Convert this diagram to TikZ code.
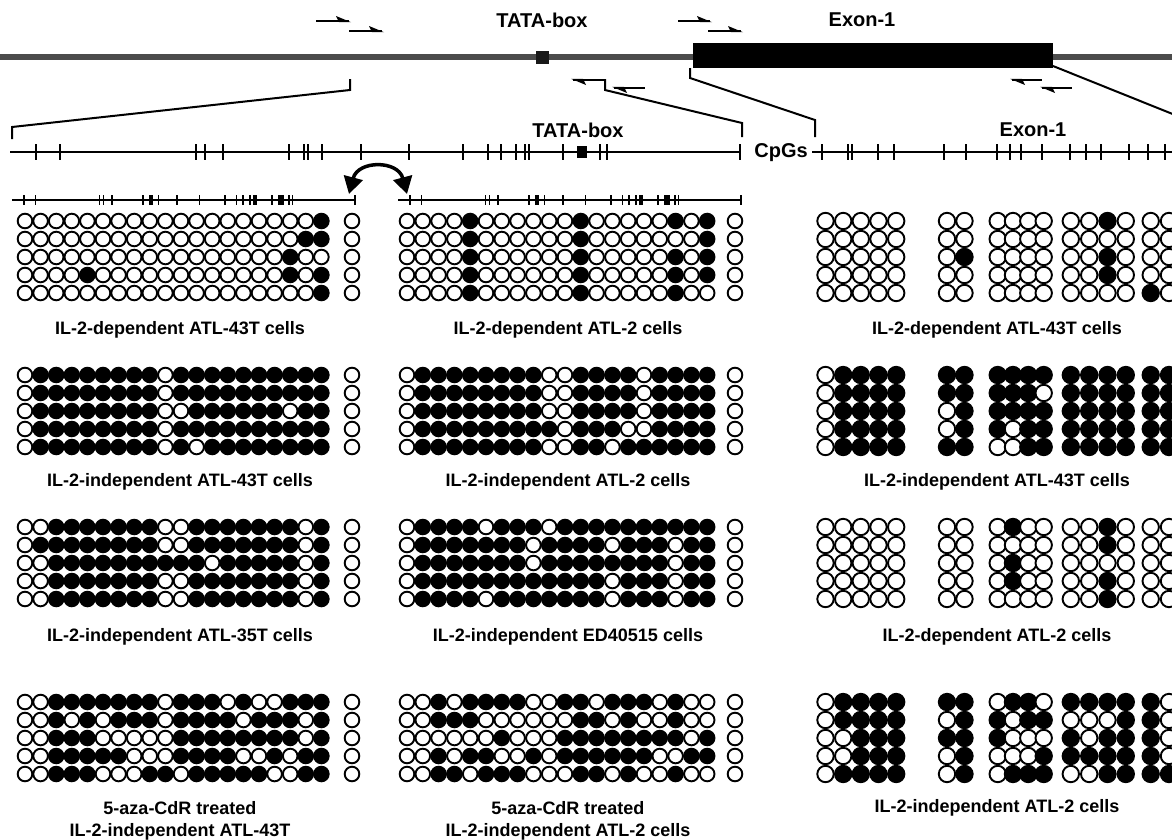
\documentclass[tikz,border=0pt]{standalone}
\usepackage{fontspec}
\setmainfont{Liberation Sans}
\usetikzlibrary{arrows.meta}
\newcount\colidx
\def\crad{7.3}
\newcommand\gridrow[2]{\global\colidx=0 \def\ry{#1}\dodigits#2\relax}
\def\dodigits#1{%
  \ifx#1\relax\else
    \global\advance\colidx by 1
    \getcx
    \ifnum#1=1 \path[fcirc] (\cx,\ry) circle[radius=\crad];\else\path[ocirc] (\cx,\ry) circle[radius=\crad];\fi
    \expandafter\dodigits
  \fi}
\newcommand\ugrid[9]{%
  \def\getcx{\pgfmathsetmacro\cx{#1+#2*(\the\colidx-1)}}%
  \gridrow{#4}{#5}\gridrow{#4+18}{#6}\gridrow{#4+36}{#7}\gridrow{#4+54}{#8}\gridrow{#4+72}{#9}%
  \foreach \k in {0,...,4}{\path[ocirc] (#3,#4+18*\k) circle[radius=\crad];}%
}
\newcommand\rgrid[6]{%
  \def\getcx{\edef\cx{\ifcase\colidx\or 825.5\or 843.2\or 860.8\or 878.5\or 896.2\or 947\or 964.5\or 997.7\or 1013\or 1028.3\or 1043.7\or 1070.8\or 1089.2\or 1107.5\or 1125.8\or 1150.7\or 1169\fi}}%
  \gridrow{#1}{#2}\gridrow{#1+18}{#3}\gridrow{#1+36}{#4}\gridrow{#1+54}{#5}\gridrow{#1+72}{#6}%
}
\newcommand\fprimer[3]{\draw[primer] (#1,#3) -- (#2,#3); \fill (#2+2,#3+1.2) -- (#2-13,#3-5) -- (#2-10,#3+1.2) -- cycle;}
\newcommand\rprimer[3]{\draw[primer] (#1,#3) -- (#2,#3); \fill (#1-2,#3-1.2) -- (#1+13,#3+5) -- (#1+10,#3-1.2) -- cycle;}
\newcommand\cpgticks[2]{% y, half height
  \foreach \t in {36,60,196,205,223,289,304,308,322,361,409,463,488,501,516,525,529,563,600,607,740}
    {\draw[tick] (\t,#1-#2) -- (\t,#1+#2);}}
\begin{document}
\begin{tikzpicture}[x=1pt,y=-1pt,
  ocirc/.style={draw=black,fill=white,line width=1.9pt},
  fcirc/.style={draw=black,fill=black,line width=1.9pt},
  lbl/.style={font=\bfseries\fontsize{18}{20}\selectfont,inner sep=0pt,align=center},
  big/.style={font=\bfseries\fontsize{20}{22}\selectfont,inner sep=0pt},
  cpgline/.style={line width=1.3pt},
  tick/.style={line width=1.6pt},
  brk/.style={line width=2pt},
  primer/.style={line width=2.4pt}]
\useasboundingbox[fill=white] (0,0) rectangle (1172,839);

% ---- genomic map
\draw[line width=6pt,black!70] (0,57) -- (1172,57);
\fill[black!90] (536,51) rectangle (549,64);
\fill[black] (693,43) rectangle (1053,68);
\node[big] (tata1) at (542,20) {TATA-box};
\node[big] (exon1) at (862,20) {Exon-1};
\fprimer{316}{349}{21}
\fprimer{349}{382}{31}
\fprimer{678}{710}{21}
\fprimer{708}{741}{31}
\rprimer{573}{605}{80}
\rprimer{614}{645}{88}
\rprimer{1012}{1042}{80}
\rprimer{1042}{1072}{88}

% ---- brackets
\draw[brk] (350,79) -- (350,90) -- (12,127) -- (12,139);
\draw[brk] (605,79) -- (605,90) -- (742,123) -- (742,137);
\draw[brk] (690,68) -- (690,78) -- (815,120) -- (815,137);
\draw[brk] (1053,66) -- (1190,121);

% ---- CpG map
\node[big] (tata2) at (578,130) {TATA-box};
\node[big] (exon2) at (1033,130) {Exon-1};
\node[big] (cpgs) at (781,153) {CpGs};
\draw[cpgline] (10,152) -- (740,152);
\cpgticks{152}{8}
\fill (577,146) rectangle (587,158);
\draw[cpgline] (812,152) -- (1172,152);
\foreach \t in {822,848,852,878,894,944,966,997,1010,1021,1042,1070,1086,1101,1129,1148,1165}
  {\draw[tick] (\t,144) -- (\t,160);}

% ---- short CpG lines
\begin{scope}[shift={(7.3,0)},xscale=0.4699]
  \draw[cpgline] (10,200) -- (740,200);
  \cpgticks{200}{5}
  \fill (577,195) rectangle (589,205);
\end{scope}
\begin{scope}[shift={(393.3,0)},xscale=0.4699]
  \draw[cpgline] (10,200) -- (740,200);
  \cpgticks{200}{5}
  \fill (577,195) rectangle (589,205);
\end{scope}
\draw[line width=3.5pt,{Triangle[length=17pt,width=19pt]}-{Triangle[length=17pt,width=19pt]}]
  (349,194) .. controls (358,160) and (398,160) .. (407,194);

% ---- left / middle grids
\def\crad{7.3}
\ugrid{25}{15.6}{352}{221}{00000000000000000001}{00000000000000000011}{00000000000000000100}{00001000000000000101}{00000000000000000001}
\ugrid{407}{15.8}{735}{221}{00001000000100000101}{00001000000100000001}{00001000000100000101}{00001000000100000101}{00001000000100000100}
\ugrid{25}{15.6}{352}{375}{01111111101111111111}{01111111101111111111}{01111111100111111011}{01111111101111111111}{01111111101011111111}
\ugrid{407}{15.8}{735}{375}{01111111100111101111}{01111111100111101111}{01111111100111101111}{01111111110111001111}{01111111100110111111}
\ugrid{25}{15.6}{352}{527}{00111111100111111101}{01111111100111111101}{00111111111101111101}{00111111100111111101}{00111111100111111101}
\ugrid{407}{15.8}{735}{527}{01111011101111111111}{01111111011110111011}{01111111011111111011}{01111111111110111011}{01111011111110111011}
\ugrid{25}{15.6}{352}{702}{00111111101110100111}{00101011101111011101}{00111000001111111101}{00111110001111001011}{00111000110111110011}
\ugrid{407}{15.8}{735}{702}{00101111001101110100}{00111000000110100100}{00000010001111111101}{00101100101111110011}{00110111000110100100}

% ---- right grids
\def\crad{8.2}
\rgrid{221}{00000000000001000}{00000000000000000}{00000010000001000}{00000000000001000}{00000000000000010}
\rgrid{375}{01111111111111111}{01111111110111111}{01111011111111111}{01111011011111111}{01111110011111111}
\rgrid{527}{00000000100001000}{00000000000001000}{00000000100000000}{00000000100001000}{00000000000001000}
\rgrid{702}{01111110110111110}{01111011011000110}{00111111000101110}{00111010001111110}{01111010111001111}

% ---- labels
\node[lbl] (l1a) at (180,330) {IL-2-dependent ATL-43T cells};
\node[lbl] (l1b) at (568,330) {IL-2-dependent ATL-2 cells};
\node[lbl] (l1c) at (997,330) {IL-2-dependent ATL-43T cells};
\node[lbl] (l2a) at (180,482) {IL-2-independent ATL-43T cells};
\node[lbl] (l2b) at (568,482) {IL-2-independent ATL-2 cells};
\node[lbl] (l2c) at (997,482) {IL-2-independent ATL-43T cells};
\node[lbl] (l3a) at (180,637) {IL-2-independent ATL-35T cells};
\node[lbl] (l3b) at (568,637) {IL-2-independent ED40515 cells};
\node[lbl] (l3c) at (997,637) {IL-2-dependent ATL-2 cells};
\node[lbl] (l4a1) at (180,808) {5-aza-CdR treated};
\node[lbl] (l4a2) at (180,832) {IL-2-independent ATL-43T};
\node[lbl] (l4b1) at (568,808) {5-aza-CdR treated};
\node[lbl] (l4b2) at (568,832) {IL-2-independent ATL-2 cells};
\node[lbl] (l4c) at (997,808) {IL-2-independent ATL-2 cells};
\end{tikzpicture}
\end{document}
